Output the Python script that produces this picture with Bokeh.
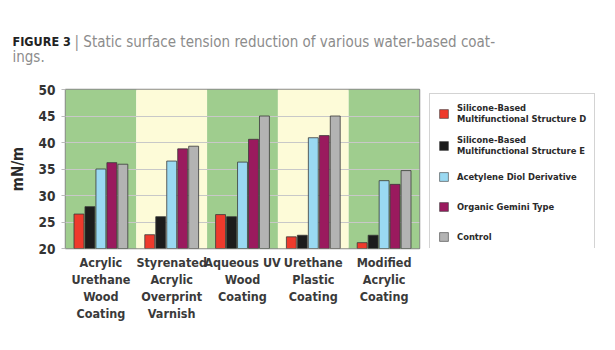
from bokeh.plotting import figure
from bokeh.models import FactorRange, Legend, LegendItem, Label, ColumnDataSource
from bokeh.transform import dodge
from bokeh.layouts import column, row
from bokeh.embed import file_html
from bokeh.resources import INLINE

categories = ["Acrylic\nUrethane\nWood\nCoating",
              "Styrenated\nAcrylic\nOverprint\nVarnish",
              "Aqueous UV\nWood\nCoating",
              "Urethane\nPlastic\nCoating",
              "Modified\nAcrylic\nCoating"]
struct_d = [26.5, 22.6, 26.4, 22.2, 21.1]
struct_e = [27.9, 26.0, 26.0, 22.5, 22.5]
acetylene = [35.0, 36.5, 36.3, 40.9, 32.8]
gemini = [36.2, 38.8, 40.6, 41.3, 32.1]
control = [35.9, 39.3, 45.0, 45.0, 34.7]
series_names = ["Silicone-Based\nMultifunctional Structure D",
                "Silicone-Based\nMultifunctional Structure E",
                "Acetylene Diol Derivative",
                "Organic Gemini Type",
                "Control"]
series_colors = ["#ee3a2c", "#1c1c1c", "#9ad9f2", "#9a1a5e", "#b3b3b3"]
band_colors = ["#9fcd8e", "#fdfbd8", "#9fcd8e", "#fdfbd8", "#9fcd8e"]
y_ticks = [20, 25, 30, 35, 40, 45, 50]
caption_bold = "FIGURE 3"
caption_rest = "|  Static surface tension reduction of various water-based coat-"
caption_line2 = "ings."

FONT = "DejaVu Sans Condensed, Lato"

# ---------- caption strip ----------
cap = figure(width=615, height=80, x_range=(0, 1), y_range=(0, 1),
             output_backend="svg", toolbar_location=None,
             x_axis_location=None, y_axis_location=None, min_border=0)
cap.outline_line_color = None
cap.grid.visible = False
cap.background_fill_color = "white"
cap.border_fill_color = "white"
cap.add_layout(Label(x=12, y=80 - 41, x_units="screen", y_units="screen", text=caption_bold,
                     text_font=FONT, text_font_style="bold", text_font_size="12.5px",
                     text_color="#222222", text_baseline="alphabetic"))
cap.add_layout(Label(x=74, y=80 - 41, x_units="screen", y_units="screen", text=caption_rest,
                     text_font=FONT, text_font_size="15px", text_color="#8c8c8c",
                     text_baseline="alphabetic"))
cap.add_layout(Label(x=12, y=80 - 56, x_units="screen", y_units="screen", text=caption_line2,
                     text_font=FONT, text_font_size="15px", text_color="#8c8c8c",
                     text_baseline="alphabetic"))

# ---------- main chart ----------
p = figure(x_range=FactorRange(factors=categories, range_padding=0), y_range=(20, 50),
           width=425, height=270, output_backend="svg", toolbar_location=None,
           min_border_left=65, min_border_right=6, min_border_top=9, min_border_bottom=102)
p.background_fill_color = "white"
p.border_fill_color = "white"
p.outline_line_color = "#8a8a8a"
p.outline_line_width = 1.5

bands = p.vbar(x=categories, top=[50] * 5, bottom=[20] * 5, width=1.0,
               fill_color=band_colors, line_color=None)
bands.level = "image"

p.xgrid.grid_line_color = None
p.ygrid.grid_line_color = "#c8c8c8"
p.ygrid.grid_line_width = 1
p.ygrid.ticker = y_ticks

src = ColumnDataSource(dict(cat=categories, d=struct_d, e=struct_e, a=acetylene,
                            g=gemini, c=control))
offsets = [-0.31, -0.155, 0.0, 0.155, 0.31]
cols = ["d", "e", "a", "g", "c"]
for col, off, color in zip(cols, offsets, series_colors):
    p.vbar(x=dodge("cat", off, range=p.x_range), top=col, bottom=20, width=0.14,
           source=src, fill_color=color, line_color="#3a3a3a", line_width=0.8)

p.yaxis.ticker = y_ticks
p.yaxis.axis_label = "mN/m"
p.yaxis.axis_label_text_font = FONT
p.yaxis.axis_label_text_font_style = "bold"
p.yaxis.axis_label_text_font_size = "15px"
p.yaxis.axis_label_text_color = "#2a2a2a"
p.yaxis.axis_label_standoff = 9
p.yaxis.major_label_text_font = FONT
p.yaxis.major_label_text_font_style = "bold"
p.yaxis.major_label_text_font_size = "13.5px"
p.yaxis.major_label_text_color = "#333333"
p.yaxis.axis_line_color = None
p.yaxis.major_tick_line_color = "#bbbbbb"
p.yaxis.major_tick_out = 4
p.yaxis.major_tick_in = 0
p.yaxis.minor_tick_line_color = None
p.yaxis.major_label_standoff = 6

p.xaxis.axis_line_color = None
p.xaxis.major_tick_line_color = None
p.xaxis.major_label_text_font = FONT
p.xaxis.major_label_text_font_style = "bold"
p.xaxis.major_label_text_font_size = "12.5px"
p.xaxis.major_label_text_color = "#3a3a3a"
p.xaxis.major_label_text_line_height = 1.15
p.xaxis.major_label_standoff = 0

# ---------- legend panel ----------
lf = figure(width=190, height=270, x_range=(0, 1), y_range=(0, 1),
            output_backend="svg", toolbar_location=None,
            x_axis_location=None, y_axis_location=None, min_border=0)
lf.outline_line_color = None
lf.grid.visible = False
lf.background_fill_color = "white"
lf.border_fill_color = "white"
items = []
for color, name in zip(series_colors, series_names):
    # one off-screen bar per series so that the legend can draw its swatch
    r = lf.vbar(x=[10], top=[10], bottom=[9], width=0.1, fill_color=color,
                line_color="#3a3a3a", line_width=0.6)
    items.append(LegendItem(label=name, renderers=[r]))
legend = Legend(items=items, location="top_left")
legend.label_text_font = FONT
legend.label_text_font_style = "bold"
legend.label_text_font_size = "9.3px"
legend.label_text_color = "#2a2a2a"
legend.label_text_line_height = 1.35
legend.glyph_width = 11
legend.glyph_height = 11
legend.label_standoff = 8
legend.label_width = 126
legend.label_height = 20
legend.spacing = 10
legend.padding = 8
legend.margin = 4
legend.border_line_color = "#a8a8a8"
legend.border_line_width = 1.5
legend.background_fill_color = "white"
legend.background_fill_alpha = 1
lf.add_layout(legend, "center")

layout = column(cap, row(p, lf, spacing=0), spacing=0)
open("out.html", "w").write(file_html(layout, INLINE))
